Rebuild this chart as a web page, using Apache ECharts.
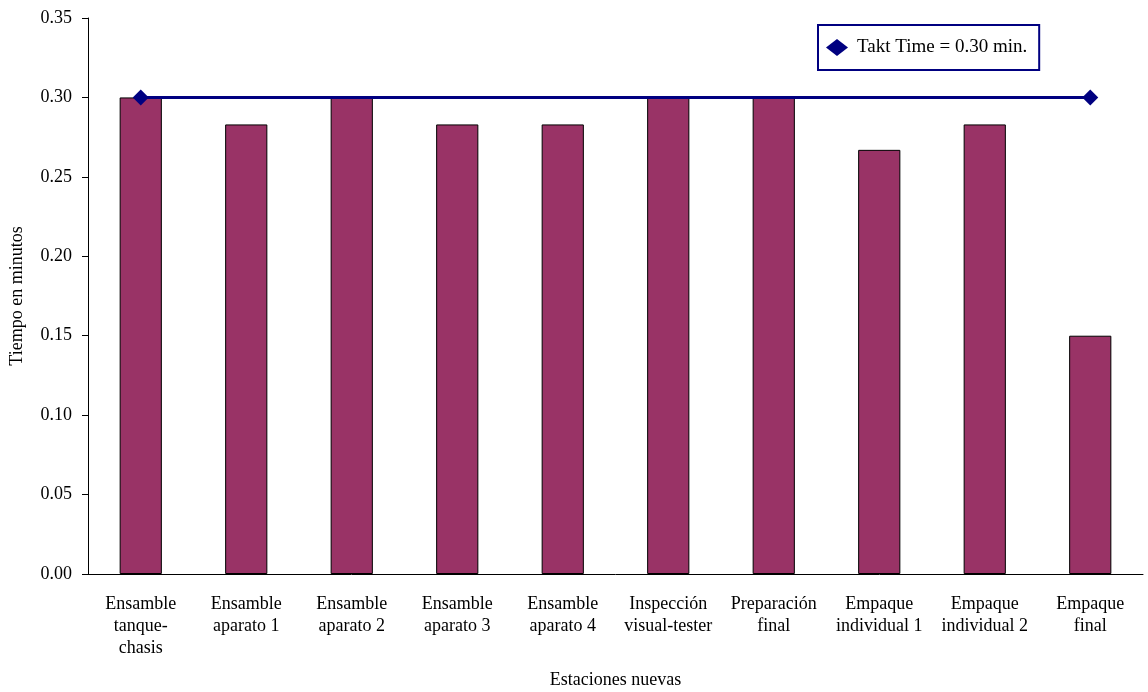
<!DOCTYPE html>
<html>
<head>
<meta charset="utf-8">
<script src="https://cdn.jsdelivr.net/npm/echarts@6/dist/echarts.min.js"></script>
<style>
  html, body { margin: 0; padding: 0; background: #fff; }
  #chart { width: 1148px; height: 692px; }
</style>
</head>
<body>
<div id="chart"></div>
<script>
// estaciones y tiempos (min)
const estaciones = [
  'Ensamble\ntanque-\nchasis', 'Ensamble\naparato 1', 'Ensamble\naparato 2',
  'Ensamble\naparato 3', 'Ensamble\naparato 4', 'Inspección\nvisual-tester',
  'Preparación\nfinal', 'Empaque\nindividual 1', 'Empaque\nindividual 2', 'Empaque\nfinal'
]
const tiempos = [0.30, 0.283, 0.30, 0.283, 0.283, 0.30, 0.30, 0.267, 0.283, 0.15]
const taktTime = [0.30, 0.30, 0.30, 0.30, 0.30, 0.30, 0.30, 0.30, 0.30, 0.30]

const font = "'Liberation Serif', 'Times New Roman', serif"
const chart = echarts.init(document.getElementById('chart'))

chart.setOption({
  animation: false,
  textStyle: { fontFamily: font, color: '#000' },
  legend: {
    data: [{ name: 'Takt Time = 0.30 min.', icon: 'diamond' }],
    left: 818,
    top: 25,
    padding: [13, 12, 13, 8],
    itemWidth: 22,
    itemHeight: 17,
    itemGap: 6,
    borderColor: '#000080',
    borderWidth: 2,
    backgroundColor: '#fff',
    textStyle: { fontFamily: font, fontSize: 19, color: '#000', padding: [0, 0, 0, 4] }
  },
  grid: {
    left: 88,
    right: 5,
    top: 18,
    bottom: 118,
    outerBoundsMode: 'none'
  },
  xAxis: {
    type: 'category',
    data: estaciones,
    name: 'Estaciones nuevas',
    nameLocation: 'middle',
    nameGap: 97,
    nameMoveOverlap: false,
    nameTextStyle: { fontFamily: font, fontSize: 18, color: '#000' },
    axisLine: { lineStyle: { color: '#000', width: 1 } },
    axisTick: { length: 6, lineStyle: { color: '#000' } },
    axisLabel: {
      interval: 0,
      margin: 19,
      fontFamily: font,
      fontSize: 18,
      lineHeight: 22,
      color: '#000'
    }
  },
  yAxis: {
    type: 'value',
    min: 0,
    max: 0.35,
    interval: 0.05,
    name: 'Tiempo en minutos',
    nameLocation: 'middle',
    nameGap: 62,
    nameMoveOverlap: false,
    nameTextStyle: { fontFamily: font, fontSize: 18, color: '#000' },
    splitLine: { show: false },
    axisLine: { show: true, lineStyle: { color: '#000', width: 1 } },
    axisTick: { show: true, length: 6, lineStyle: { color: '#000' } },
    axisLabel: {
      margin: 16,
      fontFamily: font,
      fontSize: 18,
      color: '#000',
      formatter: v => v.toFixed(2)
    }
  },
  series: [
    {
      name: 'Tiempo',
      type: 'bar',
      data: tiempos,
      barWidth: '40%',
      itemStyle: { color: '#993366', borderColor: '#000', borderWidth: 1 }
    },
    {
      name: 'Takt Time = 0.30 min.',
      type: 'line',
      z: 5,
      data: taktTime.map((v, i) => ({
        value: v,
        symbol: (i === 0 || i === taktTime.length - 1) ? 'diamond' : 'none'
      })),
      symbolSize: 16,
      showAllSymbol: true,
      lineStyle: { color: '#000080', width: 3 },
      itemStyle: { color: '#000080' }
    }
  ]
})
</script>
</body>
</html>
